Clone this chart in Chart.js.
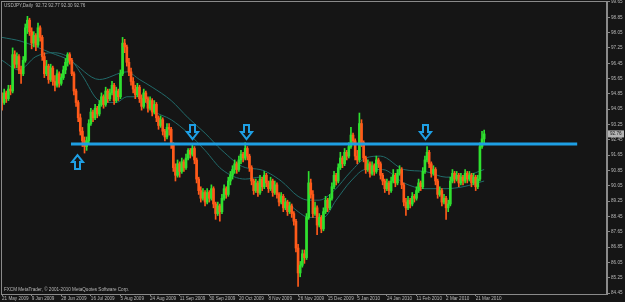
<!DOCTYPE html>
<html><head><meta charset="utf-8">
<script src="https://cdn.jsdelivr.net/npm/chart.js@4.4.1/dist/chart.umd.min.js"></script>
<style>html,body{margin:0;padding:0;background:#151515;overflow:hidden}canvas{display:block}</style>
</head><body><canvas id="c" width="625" height="302"></canvas>
<script>
const dateLabels = ['21 May 2009','9 Jun 2009','28 Jun 2009','16 Jul 2009','5 Aug 2009','24 Aug 2009','11 Sep 2009','30 Sep 2009','20 Oct 2009','8 Nov 2009','26 Nov 2009','15 Dec 2009','5 Jan 2010','24 Jan 2010','11 Feb 2010','2 Mar 2010','21 Mar 2010'];
const barsPerLabel = 14;
const priceTicks = [84.45,85.25,86.05,86.85,87.65,88.45,89.25,90.05,90.85,91.65,92.45,93.25,94.05,94.85,95.65,96.45,97.25,98.05,98.85,99.65];

const opens = [
94.7,94.4,94.9,94.6,95.1,95.0,96.9,96.4,96.8,96.1,
95.9,96.6,98.3,98.7,98.1,97.5,97.9,97.4,98.3,97.8,
96.8,95.9,96.3,95.6,96.2,95.5,95.3,95.9,95.4,95.7,
96.1,96.5,96.9,96.6,95.9,95.0,94.4,93.6,92.9,92.4,
92.1,92.4,93.3,93.9,93.6,94.1,93.8,94.3,94.7,94.3,
95.0,94.6,94.9,95.3,94.5,95.0,94.7,95.9,97.5,97.3,
96.5,96.0,95.5,95.1,94.8,95.2,94.6,94.2,94.9,94.6,
94.1,94.5,93.9,94.3,93.6,93.2,93.5,92.9,92.6,93.1,
93.0,92.2,91.0,90.6,91.2,90.8,91.3,91.0,91.5,91.9,
91.7,92.0,91.4,90.4,89.8,89.4,89.7,89.2,89.7,89.4,
89.9,89.1,88.6,89.0,88.7,89.4,89.9,89.6,90.3,90.6,
90.9,91.2,90.9,91.4,91.7,91.5,92.0,91.6,91.0,90.3,
89.8,90.2,89.7,90.4,90.0,90.6,90.2,89.9,90.3,89.7,
90.1,89.6,89.2,89.5,88.9,89.2,88.7,89.0,88.6,88.2,
86.8,85.5,85.9,86.5,86.3,88.4,90.2,89.6,88.6,88.9,
88.0,88.4,87.8,88.7,89.3,88.9,89.4,90.0,90.6,90.3,
91.0,91.5,91.2,91.8,91.6,92.1,92.7,92.4,91.6,91.4,
93.3,92.3,91.5,90.9,91.2,90.7,91.1,90.8,91.4,91.2,
90.6,90.3,89.9,90.2,89.8,90.3,90.6,90.2,90.7,90.9,
90.1,89.2,88.9,89.3,89.1,89.5,89.4,89.8,90.2,90.0,
90.8,91.4,91.8,91.2,90.7,90.9,90.3,89.6,89.8,89.2,
89.4,88.9,89.1,90.3,90.7,90.4,90.6,90.2,90.5,90.3,
90.7,90.4,90.6,90.2,90.5,90.0,90.4,92.1,92.5];
const highs = [
94.9,95.1,95.0,95.3,95.3,97.25,97.1,97.0,96.9,96.3,
96.8,98.5,98.9,98.8,98.3,98.1,98.0,98.55,98.4,97.9,
97.0,96.6,96.4,96.4,96.3,95.8,96.1,96.0,95.9,96.3,
96.7,97.0,97.0,96.7,96.0,95.1,94.5,93.8,93.1,92.6,
92.6,93.5,94.1,94.0,94.3,94.2,94.5,94.9,94.8,95.2,
95.1,95.1,95.5,95.4,95.2,95.1,96.1,97.8,97.7,97.4,
96.7,96.2,95.7,95.3,95.4,95.3,94.8,95.1,95.0,94.7,
94.7,94.6,94.5,94.4,93.7,93.7,93.6,93.0,93.3,93.3,
93.1,92.3,91.2,91.4,91.3,91.5,91.4,91.7,92.0,92.0,
92.2,92.1,91.5,90.5,90.0,89.9,89.8,89.9,89.8,90.1,
90.0,89.2,89.2,89.1,89.6,90.1,90.0,90.5,90.8,91.1,
91.4,91.3,91.6,91.9,91.8,92.3,92.1,91.7,91.1,90.4,
90.4,90.3,90.6,90.5,90.8,90.7,90.3,90.5,90.4,90.3,
90.2,89.7,89.7,89.6,89.4,89.3,89.2,89.1,88.7,88.3,
87.0,86.1,86.7,86.7,88.6,90.8,90.4,89.8,89.2,89.0,
88.6,88.5,88.9,89.5,89.4,89.6,90.2,90.8,90.7,91.2,
91.8,91.6,92.0,91.9,92.3,93.1,92.8,92.5,91.9,93.85,
93.5,92.4,91.6,91.4,91.3,91.3,91.2,91.6,91.5,91.3,
90.7,90.4,90.4,90.3,90.5,90.9,90.7,90.9,91.1,91.0,
90.2,89.4,89.5,89.4,89.7,89.6,90.0,90.4,90.3,91.0,
91.6,92.1,91.9,91.3,91.1,91.0,90.4,90.0,89.9,89.6,
89.5,89.3,90.5,90.9,90.8,90.8,90.7,90.7,90.6,90.9,
90.8,90.8,90.7,90.7,90.6,90.6,92.3,92.9,92.96];
const lows = [
94.0,94.3,94.4,94.5,94.8,94.9,96.2,96.2,95.9,95.4,
95.8,96.5,98.0,97.9,97.2,97.3,97.1,97.3,97.6,96.6,
95.7,95.8,95.4,95.5,95.3,95.0,95.2,95.2,95.3,95.6,
95.9,96.3,96.4,95.8,94.8,94.2,93.4,92.7,92.1,91.76,
91.9,92.3,93.2,93.4,93.5,93.6,93.7,94.2,94.1,94.2,
94.4,94.5,94.8,94.3,94.4,94.5,94.6,95.8,97.0,96.3,
95.8,95.3,94.9,94.6,94.7,94.4,94.0,94.1,94.4,93.9,
94.0,93.7,93.8,93.4,93.0,93.1,92.7,92.4,92.5,92.7,
92.0,90.8,90.3,90.5,90.5,90.7,90.8,90.9,91.4,91.5,
91.6,91.2,90.2,89.6,89.2,89.3,89.0,89.1,89.2,89.3,
88.9,88.3,88.5,88.2,88.6,89.3,89.4,89.5,90.1,90.4,
90.7,90.7,90.8,91.2,91.3,91.4,91.4,90.8,90.1,89.6,
89.7,89.5,89.6,89.8,89.9,90.0,89.7,89.8,89.5,89.6,
89.4,89.0,89.1,88.7,88.8,88.5,88.6,88.4,88.0,86.6,
84.8,85.3,85.8,86.0,86.2,88.3,89.4,88.4,88.5,87.5,
87.9,87.6,87.7,88.6,88.7,88.8,89.3,89.9,90.1,90.2,
90.9,91.0,91.1,91.4,91.5,92.0,92.2,91.4,91.2,91.3,
92.1,91.3,90.7,90.8,90.5,90.6,90.6,90.7,91.0,90.4,
90.1,89.7,89.8,89.6,89.7,90.2,90.0,90.1,90.6,89.9,
89.0,88.5,88.8,88.9,89.0,89.2,89.3,89.7,89.8,89.9,
90.7,91.3,91.0,90.5,90.6,90.1,89.4,89.5,89.0,89.1,
88.3,88.7,89.0,90.2,90.2,90.3,90.0,90.1,90.1,90.2,
90.2,90.3,90.0,90.1,89.8,89.9,90.3,92.0,92.30];
const closes = [
94.4,94.9,94.6,95.1,95.0,96.9,96.4,96.8,96.1,95.9,
96.6,98.3,98.7,98.1,97.5,97.9,97.4,98.3,97.8,96.8,
95.9,96.3,95.6,96.2,95.5,95.3,95.9,95.4,95.7,96.1,
96.5,96.9,96.6,95.9,95.0,94.4,93.6,92.9,92.4,92.1,
92.4,93.3,93.9,93.6,94.1,93.8,94.3,94.7,94.3,95.0,
94.6,94.9,95.3,94.5,95.0,94.7,95.9,97.5,97.3,96.5,
96.0,95.5,95.1,94.8,95.2,94.6,94.2,94.9,94.6,94.1,
94.5,93.9,94.3,93.6,93.2,93.5,92.9,92.6,93.1,93.0,
92.2,91.0,90.6,91.2,90.8,91.3,91.0,91.5,91.9,91.7,
92.0,91.4,90.4,89.8,89.4,89.7,89.2,89.7,89.4,89.9,
89.1,88.6,89.0,88.7,89.4,89.9,89.6,90.3,90.6,90.9,
91.2,90.9,91.4,91.7,91.5,92.0,91.6,91.0,90.3,89.8,
90.2,89.7,90.4,90.0,90.6,90.2,89.9,90.3,89.7,90.1,
89.6,89.2,89.5,88.9,89.2,88.7,89.0,88.6,88.2,86.8,
85.5,85.9,86.5,86.3,88.4,90.2,89.6,88.6,88.9,88.0,
88.4,87.8,88.7,89.3,88.9,89.4,90.0,90.6,90.3,91.0,
91.5,91.2,91.8,91.6,92.1,92.7,92.4,91.6,91.4,93.3,
92.3,91.5,90.9,91.2,90.7,91.1,90.8,91.4,91.2,90.6,
90.3,89.9,90.2,89.8,90.3,90.6,90.2,90.7,90.9,90.1,
89.2,88.9,89.3,89.1,89.5,89.4,89.8,90.2,90.0,90.8,
91.4,91.8,91.2,90.7,90.9,90.3,89.6,89.8,89.2,89.4,
88.9,89.1,90.3,90.7,90.4,90.6,90.2,90.5,90.3,90.7,
90.4,90.6,90.2,90.5,90.0,90.4,92.1,92.5,92.76];

const maSlowIdx = [0,9,23,32,46,59,65,71,80,88,96,104,115,122,132,140,145,150,157,165,172,179,190,200,210,220,228];
const maSlowVal = [97.8,97.6,97.0,96.6,95.6,96.0,95.6,95.2,94.5,93.6,92.8,91.9,91.0,90.9,90.3,89.5,89.3,89.3,89.8,90.8,91.5,91.6,90.9,90.8,90.5,90.6,90.9];
const maFastIdx = [0,8,16,24,32,38,46,54,59,65,71,80,88,96,104,115,122,132,140,145,152,158,165,172,180,190,200,210,218,228];
const maFastVal = [96.6,96.1,96.8,97.0,96.7,95.8,94.5,94.4,94.7,94.7,94.0,93.5,92.8,91.9,90.9,90.4,90.5,89.5,88.7,88.4,88.4,89.3,90.3,90.9,90.9,90.2,89.9,89.9,90.0,90.3];

const levelPrice = 92.23;
const levelFromIdx = 32.6;
const levelToIdx = 272;
const arrowIdx = [35.5, 90, 115.4, 200];
const arrowDir = ['up','down','down','down'];

const headerText = 'USDJPY,Daily  92.72 92.77 92.30 92.76';
const footerText = 'FXCM MetaTrader, \u00a9 2001-2010 MetaQuotes Software Corp.';
const lastPriceText = closes[closes.length-1].toFixed(2);

const UP = '#2fe02f', DOWN = '#ff5a1a', MA = '#216a6a', LEVEL = '#1e9fe4', AXIS = '#8a8a8a', TXT = '#b8b8b8';
const FONT = '"Liberation Sans", Arial, sans-serif';

const wickData = highs.map((h,i)=>({x:i, y:[lows[i], h]}));
const bodyData = opens.map((o,i)=>({x:i, y:[Math.min(o,closes[i]), Math.max(o,closes[i])]}));
const colorOf = ctx => (closes[ctx.dataIndex] >= opens[ctx.dataIndex] ? UP : DOWN);

const decor = {
  id:'decor',
  beforeDraw(chart){
    const c = chart.ctx; c.save(); c.fillStyle = '#151515'; c.fillRect(0,0,chart.width,chart.height); c.restore();
  },
  afterDatasetsDraw(chart){
    const c = chart.ctx, xs = chart.scales.x, ys = chart.scales.y;
    const ly = ys.getPixelForValue(levelPrice);
    c.save();
    c.strokeStyle = LEVEL; c.lineWidth = 2; c.lineJoin = 'miter';
    arrowIdx.forEach((ix,k)=>{
      const cx = Math.round(xs.getPixelForValue(ix)) + 0.5;
      let tip, s;
      if (arrowDir[k] === 'down'){ tip = ly - 5; s = -1; } else { tip = ly + 11; s = 1; }
      const base = tip + s*14;
      const neck = tip + s*7;
      c.beginPath();
      c.moveTo(cx, tip);
      c.lineTo(cx+5.5, neck);
      c.lineTo(cx+2.5, neck);
      c.lineTo(cx+2.5, base);
      c.lineTo(cx-2.5, base);
      c.lineTo(cx-2.5, neck);
      c.lineTo(cx-5.5, neck);
      c.closePath();
      c.stroke();
    });
    c.restore();
  },
  afterDraw(chart){
    const c = chart.ctx, a = chart.chartArea, ys = chart.scales.y;
    c.save();
    c.strokeStyle = AXIS; c.lineWidth = 1;
    c.strokeRect(a.left+0.5, a.top+0.5, a.right-a.left-1, a.bottom-a.top);
    c.fillStyle = TXT; c.font = '4.6px ' + FONT; c.textBaseline = 'middle'; c.textAlign = 'left';
    c.fillText(headerText, a.left+3, a.top+5);
    c.fillText(footerText, a.left+3, a.bottom-4);
    const py = ys.getPixelForValue(closes[closes.length-1]);
    c.fillStyle = '#b4b4b4';
    c.fillRect(a.right+1, py-3.5, 16, 7);
    c.fillStyle = '#151515';
    c.fillText(lastPriceText, a.right+3, py);
    c.restore();
  }
};

new Chart(document.getElementById('c'), {
  data: {
    datasets: [
      {type:'line', data:[{x:levelFromIdx,y:levelPrice},{x:levelToIdx,y:levelPrice}], borderColor:LEVEL, borderWidth:3, pointRadius:0},
      {type:'bar', data:bodyData, backgroundColor:colorOf, barThickness:2, grouped:false},
      {type:'bar', data:wickData, backgroundColor:colorOf, barThickness:1, grouped:false},
      {type:'line', data:maFastIdx.map((x,k)=>({x, y:maFastVal[k]})), borderColor:MA, borderWidth:1, pointRadius:0, cubicInterpolationMode:'monotone'},
      {type:'line', data:maSlowIdx.map((x,k)=>({x, y:maSlowVal[k]})), borderColor:MA, borderWidth:1, pointRadius:0, cubicInterpolationMode:'monotone'}
    ]
  },
  options: {
    responsive:false, animation:false, devicePixelRatio:1,
    layout:{padding:{left:1, top:1, right:0, bottom:0}},
    plugins:{legend:{display:false}, tooltip:{enabled:false}},
    scales:{
      x:{type:'linear', position:'bottom', min:-0.5, max:286.1, offset:false,
        afterBuildTicks(s){ s.ticks = dateLabels.map((_,k)=>({value:k*barsPerLabel})); },
        afterFit(s){ s.height = 8; },
        grid:{drawOnChartArea:false, drawTicks:true, tickLength:2, color:AXIS, offset:false},
        border:{color:AXIS},
        ticks:{autoSkip:false, maxRotation:0, align:'start', padding:0, color:TXT, font:{size:4.6, family:FONT},
          callback:(v)=>dateLabels[Math.round(v/barsPerLabel)]}
      },
      y:{type:'linear', position:'right', min:84.40, max:99.70,
        afterBuildTicks(s){ s.ticks = priceTicks.map(v=>({value:v})); },
        afterFit(s){ s.width = 18; s.paddingTop = 0; s.paddingBottom = 0; },
        grid:{drawOnChartArea:false, drawTicks:true, tickLength:3, color:AXIS},
        border:{color:AXIS},
        ticks:{padding:1, color:TXT, font:{size:4.6, family:FONT}, callback:(v)=>Number(v).toFixed(2)}
      }
    }
  },
  plugins:[decor]
});
</script>
</body></html>
